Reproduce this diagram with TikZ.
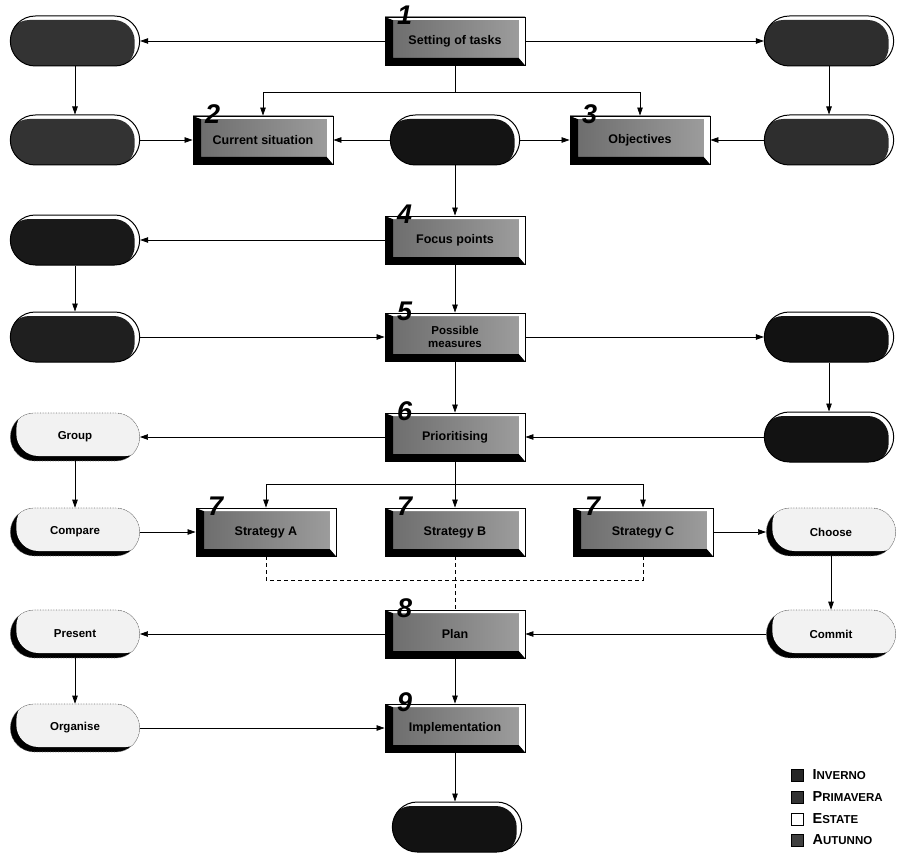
\documentclass[tikz,border=0pt]{standalone}
\usepackage{fontspec}
\setmainfont{Liberation Sans}
\usetikzlibrary{shapes.misc,arrows.meta}
\newcommand\mysc[2]{{\fontsize{14.5}{16}\selectfont #1}{\fontsize{11.5}{16}\selectfont #2}}
\newcommand\mkbox[4]{%
  \node[bx] (#1) at (#2) {#4};
  \node[num] (#1n) at ([xshift=20pt,yshift=1pt]#1.north west) {#3};}
\tikzset{
  arr/.style={-{Triangle[length=8pt,width=5.5pt]}, line width=0.7pt},
  ln/.style={line width=0.7pt},
  dsh/.style={line width=0.7pt, dash pattern=on 4pt off 3pt},
  bx/.style={rectangle, draw=black, line width=0.9pt, left color=black!58, right color=black!38,
    minimum width=140pt, minimum height=48pt, inner sep=2pt, align=center,
    font=\bfseries\fontsize{12.5}{12.5}\selectfont,
    path picture={
      \fill[black] (path picture bounding box.north west) -- (path picture bounding box.south west)
        -- (path picture bounding box.south east) -- ([xshift=-6pt,yshift=7pt]path picture bounding box.south east)
        -- ([xshift=8pt,yshift=7pt]path picture bounding box.south west)
        -- ([xshift=8pt,yshift=-3pt]path picture bounding box.north west) -- cycle;
      \fill[white] (path picture bounding box.north west) -- (path picture bounding box.north east)
        -- (path picture bounding box.south east) -- ([xshift=-6pt,yshift=7pt]path picture bounding box.south east)
        -- ([xshift=-6pt,yshift=-3pt]path picture bounding box.north east)
        -- ([xshift=8pt,yshift=-3pt]path picture bounding box.north west) -- cycle;
    }},
  num/.style={font=\bfseries\itshape\fontsize{27}{27}\selectfont, inner sep=0pt},
  dpill/.style={rounded rectangle, draw=black, line width=1pt, fill=white,
    minimum width=136pt, minimum height=50pt,
    path picture={\fill[#1, rounded corners=21pt]
      ([xshift=-2pt,yshift=-2pt]path picture bounding box.south west) rectangle
      ([xshift=-5pt,yshift=-4pt]path picture bounding box.north east);}},
  dpill/.default=black!85,
  lpill/.style={rounded rectangle, draw=black!55, densely dotted, line width=0.6pt, fill=black!5,
    minimum width=136pt, minimum height=48pt, font=\bfseries\fontsize{11.5}{13}\selectfont,
    path picture={\fill[black] (path picture bounding box.south west) rectangle (path picture bounding box.north east);
      \fill[black!5, rounded corners=22pt]
      ([xshift=6pt,yshift=5pt]path picture bounding box.south west) rectangle
      ([xshift=8pt,yshift=6pt]path picture bounding box.north east);}},
  lgsq/.style={rectangle, draw=black, line width=0.8pt, minimum size=12pt, inner sep=0pt},
  lgtx/.style={anchor=west, inner sep=0pt, font=\bfseries}
}
\begin{document}
\begin{tikzpicture}[x=1pt,y=-1pt]
\useasboundingbox (0,0) rectangle (904,853);
% central boxes
\mkbox{b1}{455,41}{1}{Setting of tasks}
\mkbox{b2}{263,140}{2}{Current situation}
\mkbox{b3}{640,140}{3}{Objectives}
\mkbox{b4}{455,240}{4}{Focus points}
\mkbox{b5}{455,337}{5}{\fontsize{11.5}{12}\selectfont Possible\\\fontsize{11.5}{12}\selectfont measures}
\mkbox{b6}{455,437}{6}{Prioritising}
\mkbox{sA}{266,532}{7}{Strategy A}
\mkbox{sB}{455,532}{7}{Strategy B}
\mkbox{sC}{643,532}{7}{Strategy C}
\mkbox{b8}{455,634}{8}{Plan}
\mkbox{b9}{455,728}{9}{Implementation}
% dark pills
\node[dpill=black!80] (L1) at (75,41) {};
\node[dpill=black!80] (L2) at (75,140) {};
\node[dpill=black!92] (M2) at (455,140) {};
\node[dpill=black!82] (R1) at (829,41) {};
\node[dpill=black!82] (R2) at (829,140) {};
\node[dpill=black!90] (L3) at (75,240) {};
\node[dpill=black!88] (L4) at (75,337) {};
\node[dpill=black!93] (R4) at (829,337) {};
\node[dpill=black!93] (R5) at (829,437) {};
\node[dpill=black!93] (E) at (457,827) {};
% light pills
\node[lpill] (Gr) at (75,437) {Group};
\node[lpill] (Cp) at (75,532) {Compare};
\node[lpill] (Pr) at (75,634) {Present};
\node[lpill] (Or) at (75,728) {Organise};
\node[lpill] (Ch) at (831,532) {Choose};
\node[lpill] (Cm) at (831,634) {Commit};
% coordinates
\coordinate (sp1) at (455,92);
\coordinate (sp2) at (455,484);
\coordinate (dd) at (455,580);
% connectors
\draw[arr] (b1.west) -- (L1.east);
\draw[arr] (b1.east) -- (R1.west);
\draw[ln] (b1.south) -- (sp1);
\draw[arr] (sp1) -| (b2.north);
\draw[arr] (sp1) -| (b3.north);
\draw[arr] (L1.south) -- (L2.north);
\draw[arr] (R1.south) -- (R2.north);
\draw[arr] (L2.east) -- (b2.west);
\draw[arr] (R2.west) -- (b3.east);
\draw[arr] (M2.west) -- (b2.east);
\draw[arr] (M2.east) -- (b3.west);
\draw[arr] (M2.south) -- (b4.north);
\draw[arr] (b4.west) -- (L3.east);
\draw[arr] (L3.south) -- (L4.north);
\draw[arr] (L4.east) -- (b5.west);
\draw[arr] (b4.south) -- (b5.north);
\draw[arr] (b5.east) -- (R4.west);
\draw[arr] (R4.south) -- (R5.north);
\draw[arr] (R5.west) -- (b6.east);
\draw[arr] (b5.south) -- (b6.north);
\draw[arr] (b6.west) -- (Gr.east);
\draw[arr] (Gr.south) -- (Cp.north);
\draw[arr] (Cp.east) -- (sA.west);
\draw[ln] (b6.south) -- (sp2);
\draw[arr] (sp2) -| (sA.north);
\draw[arr] (sp2) -- (sB.north);
\draw[arr] (sp2) -| (sC.north);
\draw[arr] (sC.east) -- (Ch.west);
\draw[arr] (Ch.south) -- (Cm.north);
\draw[arr] (Cm.west) -- (b8.east);
\draw[dsh] (sA.south) |- (dd);
\draw[dsh] (sC.south) |- (dd);
\draw[dsh] (sB.south) -- (b8.north);
\draw[arr] (b8.west) -- (Pr.east);
\draw[arr] (Pr.south) -- (Or.north);
\draw[arr] (Or.east) -- (b9.west);
\draw[arr] (b8.south) -- (b9.north);
\draw[arr] (b9.south) -- (b9.south |- E.north);
% legend
\node[lgsq, fill=black!85] (q1) at (797,775) {};
\node[lgsq, fill=black!80] (q2) at (797,797) {};
\node[lgsq, fill=white] (q3) at (797,819) {};
\node[lgsq, fill=black!75] (q4) at (797,840) {};
\node[lgtx] (t1) at ([xshift=9pt]q1.east) {\mysc{I}{NVERNO}};
\node[lgtx] (t2) at ([xshift=9pt]q2.east) {\mysc{P}{RIMAVERA}};
\node[lgtx] (t3) at ([xshift=9pt]q3.east) {\mysc{E}{STATE}};
\node[lgtx] (t4) at ([xshift=9pt]q4.east) {\mysc{A}{UTUNNO}};
\end{tikzpicture}
\end{document}
